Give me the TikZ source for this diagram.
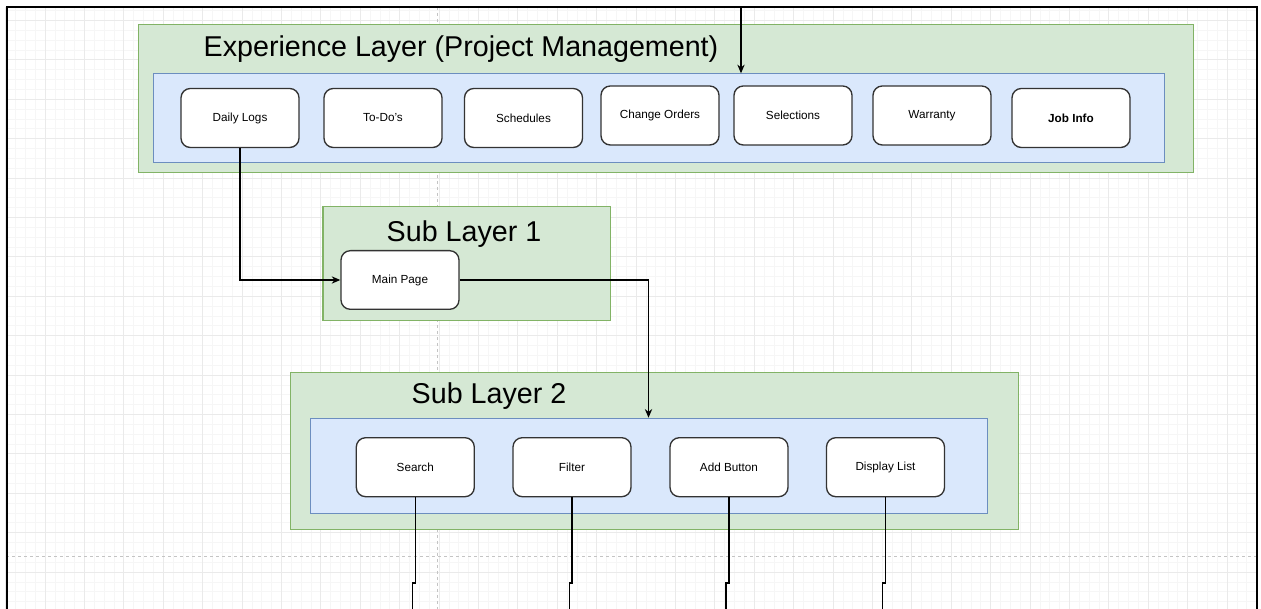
\documentclass[tikz,border=0pt]{standalone}
\usepackage{fontspec}
\setmainfont{Liberation Sans}
\usetikzlibrary{arrows.meta}

\definecolor{greenfill}{HTML}{D5E8D4}
\definecolor{greenline}{HTML}{82B366}
\definecolor{bluefill}{HTML}{DAE8FC}
\definecolor{blueline}{HTML}{6C8EBF}
\definecolor{gridminor}{HTML}{F6F6F6}
\definecolor{gridmajor}{HTML}{EAEAEA}
\definecolor{pagebreak}{HTML}{C4C4C4}
\definecolor{boxline}{HTML}{333333}

\tikzset{
  layerbox/.style={draw=greenline, fill=greenfill, line width=0.9pt, inner sep=0pt, anchor=north west},
  panelbox/.style={draw=blueline, fill=bluefill, line width=0.9pt, inner sep=0pt, anchor=north west},
  itembox/.style={draw=boxline, fill=white, rounded corners=7pt, line width=1pt,
    minimum width=88.5pt, minimum height=44.25pt, inner sep=0pt,
    font=\fontsize{8.8pt}{10pt}\selectfont},
  layertitle/.style={anchor=base, inner sep=0pt, font=\fontsize{21.5pt}{25pt}\selectfont},
  conn/.style={draw=black, line width=0.9pt},
  arrowconn/.style={conn, -{Stealth[length=6.5pt,width=5.5pt]}},
  pagebreakline/.style={draw=pagebreak, line width=0.6pt, dash pattern=on 2.5pt off 2pt},
}

\begin{document}
\begin{tikzpicture}[x=0.75pt, y=-0.75pt]
\useasboundingbox (0,0) rectangle (1261,609);
\clip (0,0) rectangle (1261,609);

% canvas grid inside the frame
\foreach \i in {0,...,127} {
  \draw[gridminor, line width=0.5pt] ({5.6+\i*9.85},7) -- ({5.6+\i*9.85},609);
}
\foreach \j in {0,...,60} {
  \draw[gridminor, line width=0.5pt] (6,{10.55+\j*9.85}) -- (1257,{10.55+\j*9.85});
}
\foreach \i in {0,...,32} {
  \draw[gridmajor, line width=0.6pt] ({5.6+\i*39.4},7) -- ({5.6+\i*39.4},609);
}
\foreach \j in {0,...,15} {
  \draw[gridmajor, line width=0.6pt] (6,{20.4+\j*39.4}) -- (1257,{20.4+\j*39.4});
}

% page-break guides
\draw[pagebreakline] (437.5,7) -- (437.5,609);
\draw[pagebreakline] (6,556.5) -- (1257,556.5);

% outer frame
\draw[line width=1.5pt] (6.5,620) -- (6.5,7) -- (1256.5,7) -- (1256.5,620);

% Experience layer
\node[layerbox, minimum width=790.9pt, minimum height=110.8pt] (explayer) at (138,24) {};
\node[layertitle] (exptitle) at (461,56.5) {Experience Layer (Project Management)};
\node[panelbox, minimum width=757.9pt, minimum height=66.3pt] (exppanel) at (153,73.3) {};

\node[itembox] (daily)    at (240,118)    {Daily Logs};
\node[itembox] (todo)     at (383,118)    {To-Do's};
\node[itembox] (sched)    at (523.5,118)  {Schedules};
\node[itembox] (change)   at (660,115.5)  {Change Orders};
\node[itembox] (select)   at (793,115.5)  {Selections};
\node[itembox] (warranty) at (932,115.5)  {Warranty};
\node[itembox] (jobinfo)  at (1071,118)   {\bfseries Job Info};

% Sub layer 1
\node[layerbox, minimum width=215.8pt, minimum height=85.7pt] (sublayerA) at (322.3,205.7) {};
\node[layertitle] (subAtitle) at (464,241.5) {Sub Layer 1};
\node[itembox, minimum height=44pt] (mainpage) at (400,280) {Main Page};

% Sub layer 2
\node[layerbox, minimum width=546pt, minimum height=117.75pt] (sublayerB) at (290,372.3) {};
\node[layertitle] (subBtitle) at (489,403.5) {Sub Layer 2};
\node[panelbox, minimum width=507.9pt, minimum height=71.25pt] (subBpanel) at (309.8,417.7) {};

\node[itembox] (search)  at (415.3,467.2) {Search};
\node[itembox] (filter)  at (572,467.2)   {Filter};
\node[itembox] (addbtn)  at (729,467.2)   {Add Button};
\node[itembox] (display) at (885.5,467.2) {Display List};

% connectors
\coordinate (entry) at (741,7);
\draw[arrowconn] (entry) -- (entry |- exppanel.north);

\draw[arrowconn] (daily.south) |- (mainpage.west);

\coordinate (drop) at (648.5,280);
\draw[arrowconn] (mainpage.east) -- (drop) -- (drop |- subBpanel.north);

\coordinate (jog) at (0,583);
\coordinate (outA) at (412.7,615);
\coordinate (outB) at (569.4,615);
\coordinate (outC) at (726,615);
\coordinate (outD) at (882.5,615);
\draw[conn] (search.south)  -- (search.south  |- jog) -- (outA |- jog) -- (outA);
\draw[conn] (filter.south)  -- (filter.south  |- jog) -- (outB |- jog) -- (outB);
\draw[conn] (addbtn.south)  -- (addbtn.south  |- jog) -- (outC |- jog) -- (outC);
\draw[conn] (display.south) -- (display.south |- jog) -- (outD |- jog) -- (outD);
\end{tikzpicture}
\end{document}
